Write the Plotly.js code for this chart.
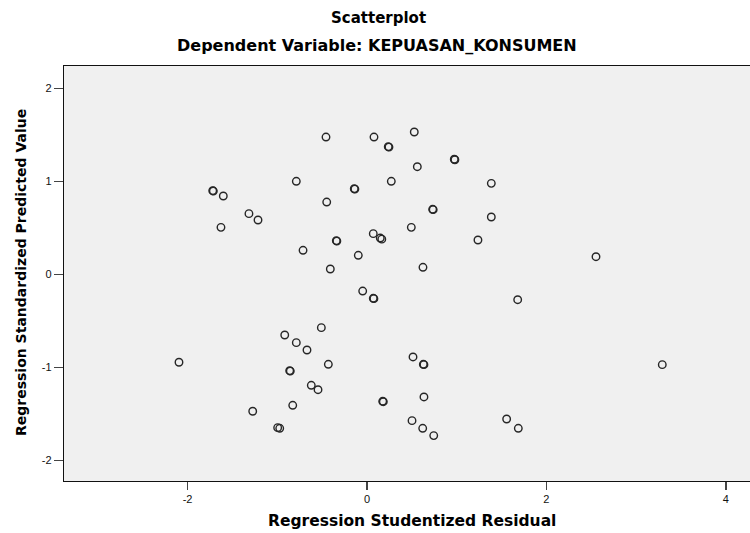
<!DOCTYPE html>
<html>
<head>
<meta charset="utf-8">
<script src="https://cdn.plot.ly/plotly-3.0.1.min.js"></script>
<style>html,body{margin:0;padding:0;background:#fff;}#chart{width:750px;height:533px;}</style>
</head>
<body>
<div id="chart"></div>
<script>
// Regression Studentized Residual (x) and Regression Standardized Predicted Value (y)
const residual = [
  -0.457, 0.078, 0.237, 0.245, 0.527, 0.973, 0.980, 0.561, -0.788, 0.271,
  1.386, -1.720, -1.713, -1.602, -0.142, -0.135, -0.449, -1.316, -1.215, -1.628,
  0.732, 0.738, 1.386, 1.237, 0.494, 0.070, 0.148, 0.165, -0.342, -0.336,
  -0.713, -0.097, -0.409, 0.624, -0.048, 0.070, 0.077, 2.553, 1.680, 3.292,
  1.557, 1.687, -0.509, -0.917, -0.788, -0.669, -2.096, -0.431, -0.862, -0.855,
  0.513, 0.628, 0.635, -0.621, -0.546, 0.175, 0.182, 0.635, -0.828, -1.274,
  -0.996, -0.973, 0.502, 0.621, 0.744
];
const predicted = [
  1.476, 1.476, 1.372, 1.368, 1.530, 1.237, 1.232, 1.157, 1.000, 1.000,
  0.978, 0.899, 0.895, 0.842, 0.920, 0.916, 0.777, 0.652, 0.584, 0.505,
  0.699, 0.695, 0.616, 0.369, 0.505, 0.437, 0.390, 0.378, 0.361, 0.357,
  0.258, 0.204, 0.057, 0.075, -0.180, -0.258, -0.262, 0.189, -0.273, -0.972,
  -1.556, -1.656, -0.574, -0.653, -0.735, -0.814, -0.946, -0.968, -1.037, -1.041,
  -0.889, -0.968, -0.972, -1.194, -1.241, -1.366, -1.370, -1.319, -1.409, -1.473,
  -1.649, -1.656, -1.574, -1.656, -1.735
];
const xTicks = [-2, 0, 2, 4];
const yTicks = [-2, -1, 0, 1, 2];
const titleLine1 = 'Scatterplot';
const titleLine2 = 'Dependent Variable: KEPUASAN_KONSUMEN';
const xTitle = 'Regression Studentized Residual';
const yTitle = 'Regression Standardized Predicted Value';

const trace = {
  x: residual,
  y: predicted,
  type: 'scatter',
  mode: 'markers',
  marker: {symbol: 'circle-open', size: 7.5, color: '#262626', line: {width: 1.4, color: '#262626'}},
  hoverinfo: 'x+y'
};

const boldFont = 'DejaVu Sans, Verdana, sans-serif';
const W = 750, H = 533, L = 64, R = 0, T = 66, B = 52;
const pw = W - L - R, ph = H - T - B;
// helpers to convert page pixel positions to paper coordinates for text placement
const px = v => (v - L) / pw;
const py = v => (H - B - v) / ph;

const layout = {
  width: W, height: H,
  margin: {l: L, r: R, t: T, b: B},
  paper_bgcolor: '#ffffff',
  plot_bgcolor: '#f0f0f0',
  showlegend: false,
  font: {family: 'Liberation Sans, Arial, sans-serif', color: '#000', size: 11},
  xaxis: {
    range: [-3.378, 4.27],
    tickvals: xTicks, ticktext: xTicks.map(String),
    showgrid: false, zeroline: false,
    showline: true, linecolor: '#111', linewidth: 1.2, mirror: true,
    ticks: 'outside', ticklen: 8, tickwidth: 1.5, tickcolor: '#444',
    tickfont: {size: 11, color: '#111'}
  },
  yaxis: {
    range: [-2.223, 2.24],
    tickvals: yTicks, ticktext: yTicks.map(String),
    showgrid: false, zeroline: false,
    showline: true, linecolor: '#111', linewidth: 1.2,
    ticks: 'outside', ticklen: 9, tickwidth: 1.5, tickcolor: '#444',
    tickfont: {size: 11, color: '#111'}
  },
  annotations: [
    {text: '<b>' + titleLine1 + '</b>', xref: 'paper', yref: 'paper', x: px(378), y: py(18),
     xanchor: 'center', yanchor: 'middle', showarrow: false, font: {size: 15, color: '#000', family: boldFont}},
    {text: '<b>' + titleLine2 + '</b>', xref: 'paper', yref: 'paper', x: px(377), y: py(45),
     xanchor: 'center', yanchor: 'middle', showarrow: false, font: {size: 16, color: '#000', family: boldFont}},
    {text: '<b>' + xTitle + '</b>', xref: 'paper', yref: 'paper', x: px(412), y: py(521),
     xanchor: 'center', yanchor: 'middle', showarrow: false, font: {size: 15.5, color: '#000', family: boldFont}},
    {text: '<b>' + yTitle + '</b>', xref: 'paper', yref: 'paper', x: px(21), y: py(273),
     xanchor: 'center', yanchor: 'middle', textangle: -90, showarrow: false, font: {size: 14, color: '#000', family: boldFont}}
  ]
};

Plotly.newPlot('chart', [trace], layout, {displayModeBar: false, staticPlot: true});
</script>
</body>
</html>
